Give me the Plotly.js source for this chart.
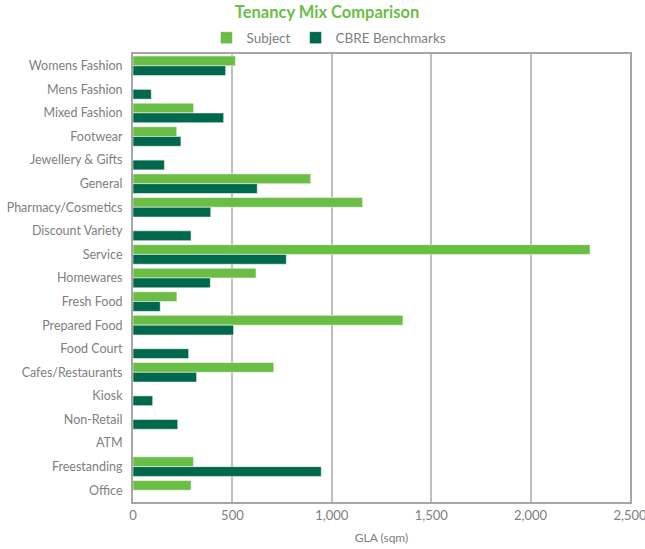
<!DOCTYPE html>
<html>
<head>
<meta charset="utf-8">
<script src="https://cdn.plot.ly/plotly-3.0.1.min.js"></script>
<style>html,body{margin:0;padding:0;background:#fff;}#chart{width:645px;height:549px;}</style>
</head>
<body>
<div id="chart"></div>
<script>
const categories = ["Womens Fashion","Mens Fashion","Mixed Fashion","Footwear","Jewellery & Gifts","General","Pharmacy/Cosmetics","Discount Variety","Service","Homewares","Fresh Food","Prepared Food","Food Court","Cafes/Restaurants","Kiosk","Non-Retail","ATM","Freestanding","Office"];
const subjectValues = [515, null, 305, 220, null, 894, 1155, null, 2299, 619, 221, 1358, null, 708, null, null, null, 304, 292];
const cbreValues = [466, 92, 456, 241, 158, 625, 391, 292, 771, 389, 137, 506, 280, 320, 99, 225, null, 947, null];
const xTickVals = [0, 500, 1000, 1500, 2000, 2500];
const xTickText = ["0", "500", "1,000", "1,500", "2,000", "2,500"];

const fontFam = "Lato, 'Open Sans', sans-serif";
const traces = [
  {type: 'bar', orientation: 'h', name: 'Subject', y: categories, x: subjectValues,
   marker: {color: '#6BBE45', line: {color: 'rgba(255,255,255,0.5)', width: 1}}},
  {type: 'bar', orientation: 'h', name: 'CBRE Benchmarks', y: categories, x: cbreValues,
   marker: {color: '#00684C', line: {color: 'rgba(255,255,255,0.5)', width: 1}}}
];
const layout = {
  width: 645, height: 549,
  margin: {l: 133, r: 15, t: 54, b: 47, autoexpand: false},
  paper_bgcolor: '#fff', plot_bgcolor: '#fff',
  font: {family: fontFam, color: '#808080', size: 12},
  title: {text: '<b>Tenancy Mix Comparison</b>', font: {family: fontFam, size: 16.5, color: '#6BBE45'},
          x: 0.507, xref: 'container', xanchor: 'center', y: 0.977, yref: 'container', yanchor: 'middle'},
  showlegend: true,
  legend: {orientation: 'h', x: 0.51, xref: 'container', xanchor: 'center', y: 0.931, yref: 'container', yanchor: 'middle',
           traceorder: 'normal', font: {size: 13.5, color: '#808080'}, itemwidth: 30,
           bgcolor: 'rgba(0,0,0,0)'},
  barmode: 'group', bargap: 0.17, bargroupgap: 0,
  xaxis: {range: [0, 2500], tickvals: xTickVals, ticktext: xTickText, showgrid: true, gridcolor: '#BFBFBF', gridwidth: 2,
          zeroline: false, showline: true, linecolor: '#A6A6A6', linewidth: 2, mirror: true, ticks: '',
          ticklabeloverflow: 'allow', tickfont: {size: 13, color: '#808080'}, tickangle: 0,
          title: {text: 'GLA (sqm)', font: {size: 12, color: '#808080'}, standoff: 12}},
  yaxis: {autorange: 'reversed', showline: true, linecolor: '#A6A6A6', linewidth: 2, mirror: true, showgrid: false,
          ticks: '', tickfont: {size: 12.5, color: '#808080'}, ticklabelstandoff: 6}
};
Plotly.newPlot('chart', traces, layout, {displayModeBar: false, staticPlot: true});
</script>
</body>
</html>
